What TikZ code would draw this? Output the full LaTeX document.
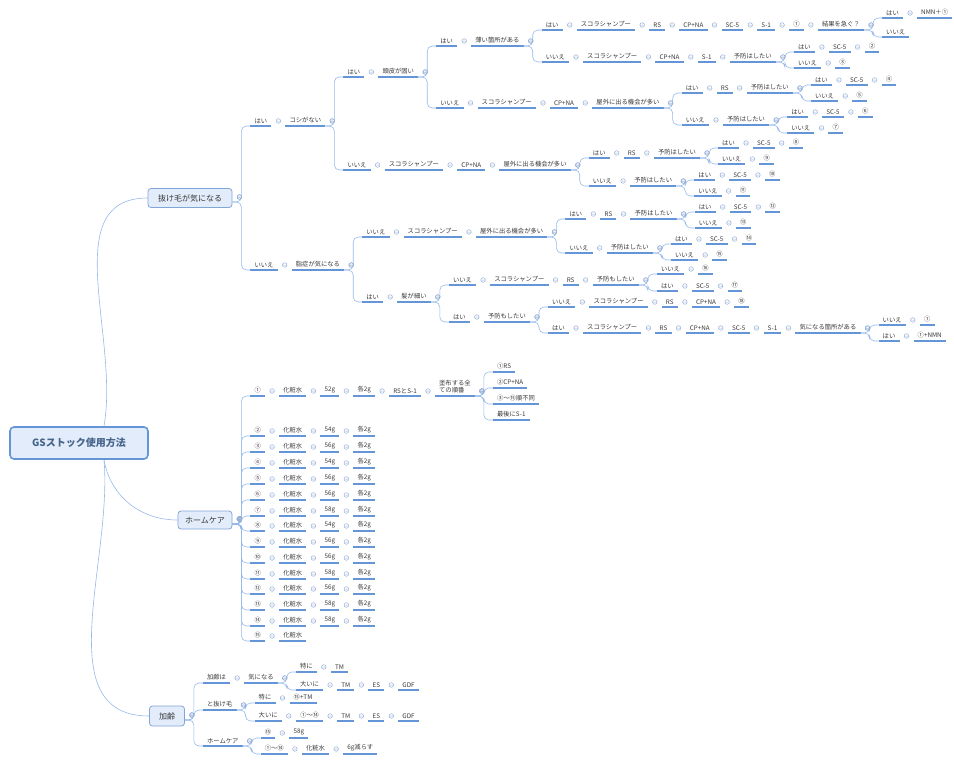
\documentclass[tikz,border=0pt]{standalone}
\usepackage{fontspec}
\setmainfont{Noto Sans CJK JP}
\usetikzlibrary{calc}
\definecolor{ulc}{RGB}{100,150,215}
\definecolor{conc}{RGB}{150,185,235}
\definecolor{mkc}{RGB}{150,175,215}
\definecolor{txc}{RGB}{55,55,55}
\definecolor{roottx}{RGB}{70,100,140}
\definecolor{boxf}{RGB}{226,236,250}
\definecolor{boxd}{RGB}{130,165,215}
\tikzset{
 t/.style={anchor=south west,inner xsep=4pt,inner ysep=2.5pt,text=txc,font=\fontsize{6.3}{7.5}\selectfont},
 ul/.style={draw=ulc,line width=1.1pt},
 con/.style={draw=conc,line width=0.6pt},
 mkc/.style={draw=mkc,line width=0.5pt},
 box/.style={draw=boxd,fill=boxf,rounded corners=3pt,line width=0.8pt,text=txc,font=\fontsize{8}{9}\selectfont,inner sep=2pt},
 root/.style={draw=ulc,fill=boxf,rounded corners=4pt,line width=1.6pt,text=roottx,font=\fontsize{10}{11}\selectfont\bfseries,minimum width=138pt,minimum height=32pt}
}
\newcommand\mk[1]{\draw[mkc] #1 circle[radius=2.3] +(-1.3,0) -- +(1.3,0);}
\newcommand\nx[3]{\node[t] (#1) at ([xshift=14]#2.south east) {#3};
 \draw[ul] (#1.south west)--(#1.south east);
 \mk{([shift={(7,5)}]#2.south east)}}
\newcommand\kid[4]{\path (#2) ++(18,0) coordinate (#1s);
 \node[t] (#1) at (#1s |- 0,#3) {#4};
 \draw[ul] (#1.south west)--(#1.south east);
 \draw[con,rounded corners=5pt] (#2) -- ++(9,0) |- (#1.south west);
 \mk{([shift={(7,5)}]#2)}}
\begin{document}
\begin{tikzpicture}[x=1pt,y=1pt]
\useasboundingbox (0,0) rectangle (954,-764);
\node[root] (root) at (79,-443) {GSストック使用方法};
\node[box,minimum width=84pt,minimum height=19pt] (nuke) at (190,-198) {抜け毛が気になる};
\node[box,minimum width=54pt,minimum height=18pt] (hc) at (205,-520) {ホームケア};
\node[box,minimum width=35pt,minimum height=20pt] (ag) at (167,-716) {加齢};
\coordinate (nukeE) at ([yshift=-4]nuke.east);
\coordinate (hcE) at ([yshift=-4]hc.east);
\coordinate (agE) at ([yshift=-4]ag.east);
\draw[con] ([xshift=25]root.north) to[out=80,in=180] (nuke.west);
\draw[con] ([xshift=25]root.south) to[out=-80,in=180] (hc.west);
\draw[con] ([xshift=25]root.south) to[out=-85,in=180] (ag.west);
% ---- 抜け毛
\kid{a1}{nukeE}{-126}{はい}\nx{a2}{a1}{コシがない}
\kid{b1}{a2.south east}{-77}{はい}\nx{b2}{b1}{頭皮が固い}
\kid{c1}{b2.south east}{-46}{はい}\nx{c2}{c1}{薄い箇所がある}
\kid{d1}{c2.south east}{-30}{はい}\nx{d2}{d1}{スコラシャンプー}\nx{d3}{d2}{RS}\nx{d4}{d3}{CP+NA}\nx{d5}{d4}{SC-5}\nx{d6}{d5}{S-1}\nx{d7}{d6}{①}\nx{d8}{d7}{結果を急ぐ？}
\kid{e1}{d8.south east}{-18}{はい}\nx{e2}{e1}{NMN＋①}
\kid{e3}{d8.south east}{-37}{いいえ}
\kid{f1}{c2.south east}{-62}{いいえ}\nx{f2}{f1}{スコラシャンプー}\nx{f3}{f2}{CP+NA}\nx{f4}{f3}{S-1}\nx{f5}{f4}{予防はしたい}
\kid{g1}{f5.south east}{-52}{はい}\nx{g2}{g1}{SC-5}\nx{g3}{g2}{②}
\kid{g4}{f5.south east}{-68}{いいえ}\nx{g5}{g4}{③}
\kid{h1}{b2.south east}{-108}{いいえ}\nx{h2}{h1}{スコラシャンプー}\nx{h3}{h2}{CP+NA}\nx{h4}{h3}{屋外に出る機会が多い}
\kid{i1}{h4.south east}{-93}{はい}\nx{i2}{i1}{RS}\nx{i3}{i2}{予防はしたい}
\kid{j1}{i3.south east}{-85}{はい}\nx{j2}{j1}{SC-5}\nx{j3}{j2}{④}
\kid{j4}{i3.south east}{-101}{いいえ}\nx{j5}{j4}{⑤}
\kid{k1}{h4.south east}{-125}{いいえ}\nx{k2}{k1}{予防はしたい}
\kid{l1}{k2.south east}{-117}{はい}\nx{l2}{l1}{SC-5}\nx{l3}{l2}{⑥}
\kid{l4}{k2.south east}{-133}{いいえ}\nx{l5}{l4}{⑦}
\kid{m1}{a2.south east}{-170}{いいえ}\nx{m2}{m1}{スコラシャンプー}\nx{m3}{m2}{CP+NA}\nx{m4}{m3}{屋外に出る機会が多い}
\kid{n1}{m4.south east}{-158}{はい}\nx{n2}{n1}{RS}\nx{n3}{n2}{予防はしたい}
\kid{o1}{n3.south east}{-148}{はい}\nx{o2}{o1}{SC-5}\nx{o3}{o2}{⑧}
\kid{o4}{n3.south east}{-164}{いいえ}\nx{o5}{o4}{⑨}
\kid{p1}{m4.south east}{-186}{いいえ}\nx{p2}{p1}{予防はしたい}
\kid{q1}{p2.south east}{-180}{はい}\nx{q2}{q1}{SC-5}\nx{q3}{q2}{⑩}
\kid{q4}{p2.south east}{-196}{いいえ}\nx{q5}{q4}{⑪}
\kid{r1}{nukeE}{-270}{いいえ}\nx{r2}{r1}{脂症が気になる}
\kid{s1}{r2.south east}{-237}{いいえ}\nx{s2}{s1}{スコラシャンプー}\nx{s3}{s2}{屋外に出る機会が多い}
\kid{t1}{s3.south east}{-219}{はい}\nx{t2}{t1}{RS}\nx{t3}{t2}{予防はしたい}
\kid{u1}{t3.south east}{-212}{はい}\nx{u2}{u1}{SC-5}\nx{u3}{u2}{⑫}
\kid{u4}{t3.south east}{-228}{いいえ}\nx{u5}{u4}{⑬}
\kid{v1}{s3.south east}{-253}{いいえ}\nx{v2}{v1}{予防はしたい}
\kid{w1}{v2.south east}{-244}{はい}\nx{w2}{w1}{SC-5}\nx{w3}{w2}{⑭}
\kid{w4}{v2.south east}{-260}{いいえ}\nx{w5}{w4}{⑮}
\kid{x1}{r2.south east}{-302}{はい}\nx{x2}{x1}{髪が細い}
\kid{y1}{x2.south east}{-285}{いいえ}\nx{y2}{y1}{スコラシャンプー}\nx{y3}{y2}{RS}\nx{y4}{y3}{予防もしたい}
\kid{z1}{y4.south east}{-274}{いいえ}\nx{z2}{z1}{⑯}
\kid{z3}{y4.south east}{-291}{はい}\nx{z4}{z3}{SC-5}\nx{z5}{z4}{⑰}
\kid{aa1}{x2.south east}{-322}{はい}\nx{aa2}{aa1}{予防もしたい}
\kid{ab1}{aa2.south east}{-307}{いいえ}\nx{ab2}{ab1}{スコラシャンプー}\nx{ab3}{ab2}{RS}\nx{ab4}{ab3}{CP+NA}\nx{ab5}{ab4}{⑱}
\kid{ac1}{aa2.south east}{-333}{はい}\nx{ac2}{ac1}{スコラシャンプー}\nx{ac3}{ac2}{RS}\nx{ac4}{ac3}{CP+NA}\nx{ac5}{ac4}{SC-5}\nx{ac6}{ac5}{S-1}\nx{ac7}{ac6}{気になる箇所がある}
\kid{ad1}{ac7.south east}{-325}{いいえ}\nx{ad2}{ad1}{①}
\kid{ad3}{ac7.south east}{-341}{はい}\nx{ad4}{ad3}{①+NMN}
% ---- ホームケア
\kid{h01}{hcE}{-396}{①}\nx{h02}{h01}{化粧水}\nx{h03}{h02}{52g}\nx{h04}{h03}{各2g}\nx{h05}{h04}{RSとS-1}
\node[t,align=left] (h06) at ([xshift=14]h05.south east) {塗布する全\\ての順番};
\draw[ul] (h06.south west)--(h06.south east);
\mk{([shift={(7,5)}]h05.south east)}
\kid{h07}{h06.south east}{-372}{①RS}
\kid{h08}{h06.south east}{-388}{②CP+NA}
\kid{h09}{h06.south east}{-404}{③～⑮順不同}
\kid{h10}{h06.south east}{-420}{最後にS-1}
\foreach \n/\g/\yy [count=\i] in {②/54g/436,③/56g/452,④/54g/468,⑤/56g/484,⑥/56g/500,⑦/58g/516,⑧/54g/531,⑨/56g/547,⑩/56g/563,⑪/58g/579,⑫/56g/594,⑬/58g/610,⑭/58g/626}{
 \kid{hr\i a}{hcE}{-\yy}{\n}\nx{hr\i b}{hr\i a}{化粧水}\nx{hr\i c}{hr\i b}{\g}\nx{hr\i d}{hr\i c}{各2g}
}
\kid{hz1}{hcE}{-641}{⑮}\nx{hz2}{hz1}{化粧水}
% ---- 加齢
\kid{k01}{agE}{-683}{加齢は}\nx{k02}{k01}{気になる}
\kid{k03}{k02.south east}{-672}{特に}\nx{k04}{k03}{TM}
\kid{k05}{k02.south east}{-690}{大いに}\nx{k06}{k05}{TM}\nx{k07}{k06}{ES}\nx{k08}{k07}{GDF}
\kid{k11}{agE}{-710}{と抜け毛}
\kid{k12}{k11.south east}{-703}{特に}\nx{k13}{k12}{⑮+TM}
\kid{k14}{k11.south east}{-721}{大いに}\nx{k15}{k14}{①～⑭}\nx{k16}{k15}{TM}\nx{k17}{k16}{ES}\nx{k18}{k17}{GDF}
\kid{k21}{agE}{-746}{ホームケア}
\kid{k22}{k21.south east}{-738}{⑮}\nx{k23}{k22}{58g}
\kid{k24}{k21.south east}{-754}{①～⑭}\nx{k25}{k24}{化粧水}\nx{k26}{k25}{6g減らす}
\end{tikzpicture}
\end{document}
